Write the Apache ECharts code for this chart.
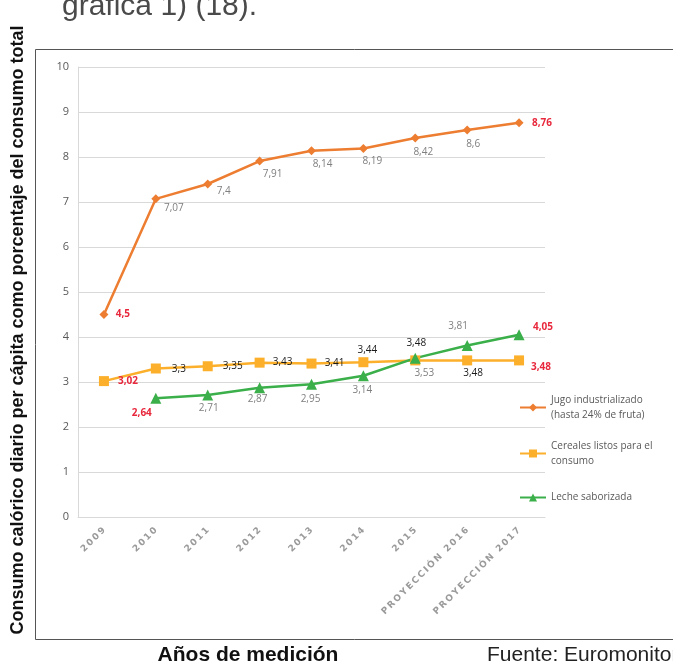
<!DOCTYPE html>
<html>
<head>
<meta charset="utf-8">
<script src="https://cdn.jsdelivr.net/npm/echarts@6/dist/echarts.min.js"></script>
<style>
  html, body { margin: 0; padding: 0; background: #fff; }
  #main { width: 673px; height: 663px; }
</style>
</head>
<body>
<div id="main"></div>
<script>
// datos
const years = ['2009', '2010', '2011', '2012', '2013', '2014', '2015', 'PROYECCIÓN 2016', 'PROYECCIÓN 2017'];
const jugo = [4.5, 7.07, 7.4, 7.91, 8.14, 8.19, 8.42, 8.6, 8.76];
const cereales = [3.02, 3.3, 3.35, 3.43, 3.41, 3.44, 3.48, 3.48, 3.48];
const leche = [null, 2.64, 2.71, 2.87, 2.95, 3.14, 3.53, 3.81, 4.05];

const names = ['Jugo industrializado\n(hasta 24% de fruta)', 'Cereales listos para el\nconsumo', 'Leche saborizada'];

// posicion de cada etiqueta respecto al punto (solo estilo)
const jugoOff = [[19, 0], [18, 9], [16, 7], [13, 13], [11, 13], [9, 13], [8, 14], [6, 14], [23, 0]];
const cerealOff = [[24, 0], [23, 1], [25, 0], [23, 0], [23, 0], [4, -12], [1, -17], [6, 13], [22, 7]];
const lecheOff = [[0, 0], [-14, 15], [1, 13], [-2, 11], [-1, 15], [-1, 14], [9, 15], [-9, -19], [24, -8]];

const RED = '#e8283c';
const GREY = '#7f7f7f';
const DARK = '#1a1a1a';

const fmt = v => String(v).replace('.', ',');

function buildData(values, offsets, colorFn) {
  return values.map((v, i) => {
    if (v == null) return null;
    const c = colorFn(i);
    return {
      value: v,
      label: {
        offset: offsets[i],
        color: c,
        fontWeight: c === RED ? 'bold' : 'normal'
      }
    };
  });
}

const jugoData = buildData(jugo, jugoOff, i => (i === 0 || i === 8) ? RED : GREY);
const cerealData = buildData(cereales, cerealOff, i => (i === 0 || i === 8) ? RED : DARK);
const lecheData = buildData(leche, lecheOff, i => (i === 1 || i === 8) ? RED : GREY);

const labelBase = {
  show: true,
  position: 'inside',
  fontSize: 10,
  fontFamily: 'Open Sans',
  formatter: p => fmt(p.value)
};

const legendText = {
  color: '#595959',
  fontSize: 10,
  fontFamily: 'Open Sans',
  lineHeight: 15
};

const myChart = echarts.init(document.getElementById('main'));

const option = {
  animation: false,
  grid: { left: 78, right: 128, top: 67, bottom: 146 },
  legend: [
    {
      data: [names[0]], orient: 'vertical', left: 519, top: 385, padding: 0,
      itemWidth: 26, itemHeight: 10,
      textStyle: Object.assign({ padding: [15, 0, 0, 0] }, legendText)
    },
    {
      data: [names[1]], orient: 'vertical', left: 519, top: 431, padding: 0,
      itemWidth: 26, itemHeight: 10,
      textStyle: Object.assign({ padding: [15, 0, 0, 0] }, legendText)
    },
    {
      data: [names[2]], orient: 'vertical', left: 519, top: 490, padding: 0,
      itemWidth: 26, itemHeight: 10,
      textStyle: legendText
    }
  ],
  xAxis: {
    type: 'category',
    data: years,
    boundaryGap: true,
    axisLine: { lineStyle: { color: '#d9d9d9' } },
    axisTick: { show: false },
    axisLabel: {
      rotate: 45,
      margin: 12,
      color: '#9a9a9a',
      fontSize: 9,
      fontWeight: 'bold',
      fontFamily: 'DejaVu Sans',
      interval: 0,
      formatter: v => v.split('').join('\u2009')
    }
  },
  yAxis: {
    type: 'value',
    min: 0,
    max: 10,
    interval: 1,
    axisLine: { show: true, lineStyle: { color: '#d9d9d9' } },
    axisTick: { show: false },
    axisLabel: { color: '#595959', fontSize: 11, fontFamily: 'Open Sans', margin: 9 },
    splitLine: { lineStyle: { color: '#d9d9d9' } }
  },
  series: [
    {
      name: names[0],
      type: 'line',
      data: jugoData,
      symbol: 'diamond',
      symbolSize: 9,
      color: '#ed7d31',
      lineStyle: { width: 2.5 },
      label: labelBase
    },
    {
      name: names[1],
      type: 'line',
      data: cerealData,
      symbol: 'rect',
      symbolSize: 10,
      color: '#fbaf2a',
      lineStyle: { width: 2.5 },
      label: labelBase
    },
    {
      name: names[2],
      type: 'line',
      data: lecheData,
      symbol: 'triangle',
      symbolSize: 11,
      color: '#3aaf4a',
      lineStyle: { width: 2.5 },
      label: labelBase
    }
  ],
  graphic: [
    {
      type: 'rect',
      shape: { x: 35.5, y: 49.5, width: 700, height: 590 },
      style: { fill: 'none', stroke: '#555', lineWidth: 1 },
      silent: true, z: -1
    },
    {
      type: 'text', x: 62, y: 22,
      style: {
        text: 'gráfica 1) (18).', fontSize: 30, fontFamily: 'Liberation Sans', fill: '#4a4a4a',
        align: 'left', verticalAlign: 'bottom'
      }
    },
    {
      type: 'text', x: 18, y: 330, rotation: Math.PI / 2,
      style: {
        text: 'Consumo calórico diario per cápita como porcentaje del consumo total',
        fontSize: 18, fontWeight: 'bold', fontFamily: 'Liberation Sans', fill: '#111',
        align: 'center', verticalAlign: 'middle'
      }
    },
    {
      type: 'text', x: 248, y: 655,
      style: {
        text: 'Años de medición', fontSize: 21, fontWeight: 'bold', fontFamily: 'Liberation Sans',
        fill: '#111', align: 'center', verticalAlign: 'middle'
      }
    },
    {
      type: 'text', x: 487, y: 655,
      style: {
        text: 'Fuente: Euromonitor', fontSize: 21, fontFamily: 'Liberation Sans',
        fill: '#222', align: 'left', verticalAlign: 'middle'
      }
    }
  ]
};

myChart.setOption(option);
</script>
</body>
</html>
